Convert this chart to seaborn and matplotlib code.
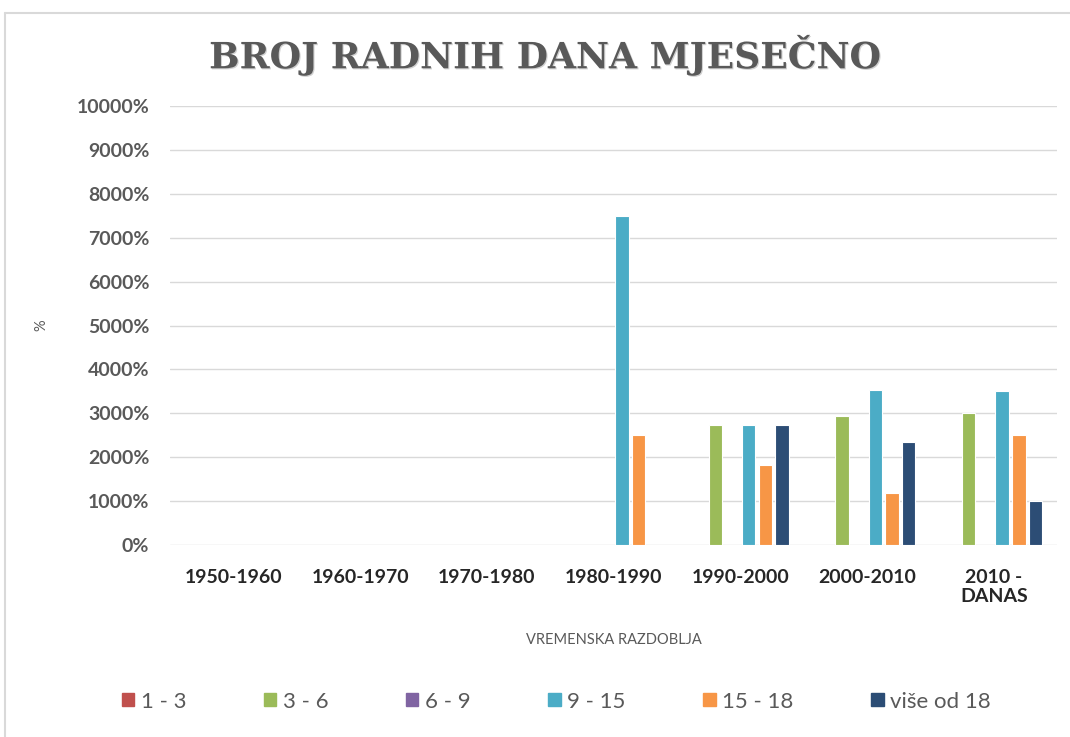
import pandas as pd
import seaborn as sb
import matplotlib.pyplot as plt
from matplotlib.ticker import PercentFormatter
from matplotlib.lines import Line2D
import matplotlib.patheffects as pe

# Data (values in %, axis shows them x100 like the original Excel chart)
razdoblja = ['1950-1960', '1960-1970', '1970-1980', '1980-1990',
             '1990-2000', '2000-2010', '2010 -\nDANAS']
serije = ['1 - 3', '3 - 6', '6 - 9', '9 - 15', '15 - 18', 'više od 18']
v_1_3 = [0, 0, 0, 0, 0, 0, 0]
v_3_6 = [0, 0, 0, 0, 27.27, 29.41, 30.0]
v_6_9 = [0, 0, 0, 0, 0, 0, 0]
v_9_15 = [0, 0, 0, 75.0, 27.27, 35.29, 35.0]
v_15_18 = [0, 0, 0, 25.0, 18.18, 11.76, 25.0]
v_18 = [0, 0, 0, 0, 27.27, 23.53, 10.0]
boje = ['#C0504D', '#9BBB59', '#8064A2', '#4BACC6', '#F79646', '#2C4D75']

rows = []
for s, vals in zip(serije, [v_1_3, v_3_6, v_6_9, v_9_15, v_15_18, v_18]):
    for r, v in zip(razdoblja, vals):
        rows.append({'razdoblje': r, 'serija': s, 'vrijednost': v})
Data = pd.DataFrame(rows)

sb.set_style('white')
plt.rcParams['font.family'] = ['Lato', 'DejaVu Sans']

fig = plt.figure(figsize=(10.7, 7.37), dpi=100)
ax = fig.add_axes([0.159, 0.2605, 0.829, 0.5955])

sb.barplot(data=Data, x='razdoblje', y='vrijednost', hue='serija',
           palette=boje, saturation=1, width=0.79, gap=0.2, edgecolor='white',
           linewidth=0.8, ax=ax)

ax.set_ylim(0, 100)
ax.set_yticks(range(0, 101, 10))
ax.yaxis.set_major_formatter(PercentFormatter(xmax=1, decimals=0))
ax.grid(axis='y', color='#d9d9d9', linewidth=1)
ax.set_axisbelow(True)
for sp in ax.spines.values():
    sp.set_visible(False)
ax.tick_params(axis='y', length=0, pad=15, labelsize=14, labelcolor='#595959')
ax.tick_params(axis='x', length=0, pad=17, labelsize=14, labelcolor='#262626')
for t in ax.get_yticklabels() + ax.get_xticklabels():
    t.set_fontweight('bold')

ax.set_xlabel('VREMENSKA RAZDOBLJA', fontsize=10.5, color='#595959', labelpad=20)
ax.set_ylabel('%', fontsize=10.5, color='#595959', labelpad=20)

ax.legend_.remove()
handles = [plt.Rectangle((0, 0), 1, 1, color=c) for c in boje]
fig.legend(handles, serije, loc='center', bbox_to_anchor=(0.52, 0.048), ncol=6,
           frameon=False, fontsize=16, handlelength=0.55, handleheight=0.55,
           handletextpad=0.3, columnspacing=3.5, labelcolor='#595959')

fig.text(0.51, 0.925, 'BROJ RADNIH DANA MJESEČNO', ha='center', va='center',
         fontsize=26, fontweight='bold', family='DejaVu Serif', color='#595959',
         path_effects=[pe.withSimplePatchShadow(offset=(0.8, -0.8), alpha=0.2)])

# chart frame
fig.add_artist(Line2D([5 / 1070, 1], [1 - 13 / 737, 1 - 13 / 737], color='#d9d9d9', lw=1.5))
fig.add_artist(Line2D([5 / 1070, 5 / 1070], [0, 1 - 13 / 737], color='#d9d9d9', lw=1.5))

plt.savefig('out.png', dpi=100)
